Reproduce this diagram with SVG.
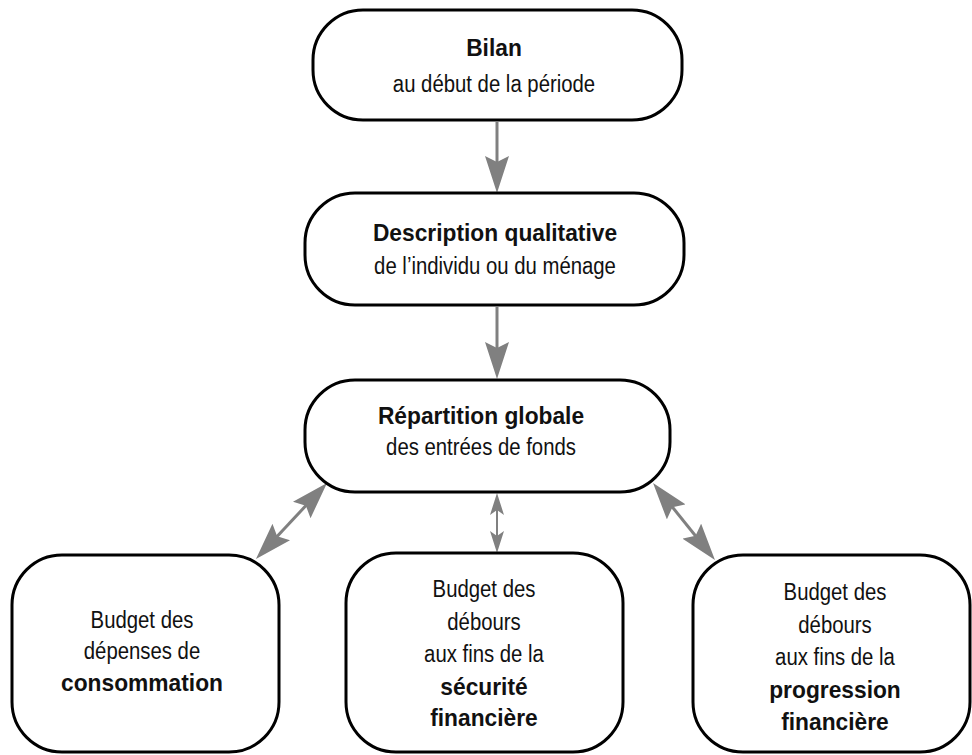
<svg xmlns="http://www.w3.org/2000/svg" width="972" height="755" viewBox="0 0 972 755">
<defs>
<style>
.box{fill:#fff;stroke:#000;stroke-width:3}
.t{font-family:"Liberation Sans",Arial,sans-serif;font-size:24.5px;fill:#111;text-anchor:middle}
.b{font-weight:bold}
.c{stroke:#808080;stroke-width:3;fill:none}
</style>
<marker id="ah" viewBox="0 0 37 24" refX="27" refY="12" markerWidth="37" markerHeight="24" markerUnits="userSpaceOnUse" orient="auto-start-reverse">
<path d="M0,0 L37,12 L0,24 L6,12 Z" fill="#808080"/>
</marker>
<marker id="as" viewBox="0 0 22 14" refX="16" refY="7" markerWidth="22" markerHeight="14" markerUnits="userSpaceOnUse" orient="auto-start-reverse">
<path d="M0,0 L22,7 L0,14 L5,7 Z" fill="#808080"/>
</marker>
</defs>
<g id="connectors">
<line class="c" x1="497" y1="122" x2="497" y2="183" marker-end="url(#ah)"/>
<line class="c" x1="497" y1="307" x2="497" y2="369" marker-end="url(#ah)"/>
<line class="c" x1="497" y1="499" x2="497" y2="547" marker-start="url(#as)" marker-end="url(#as)" style="stroke-width:2"/>
<line class="c" x1="320.2" y1="490.3" x2="262.8" y2="551.7" marker-start="url(#ah)" marker-end="url(#ah)"/>
<line class="c" x1="659.3" y1="490.8" x2="708.7" y2="552.2" marker-start="url(#ah)" marker-end="url(#ah)"/>
</g>
<g id="bilan">
<rect class="box" x="313" y="10" width="369" height="110" rx="50"/>
<text class="t b" transform="translate(494,0) scale(0.93,1)" x="0" y="56">Bilan</text>
<text class="t" transform="translate(494,0) scale(0.83,1)" x="0" y="92">au début de la période</text>
</g>
<g id="description">
<rect class="box" x="305" y="193" width="379" height="112" rx="50"/>
<text class="t b" transform="translate(495,0) scale(0.93,1)" x="0" y="241">Description qualitative</text>
<text class="t" transform="translate(495,0) scale(0.83,1)" x="0" y="274">de l’individu ou du ménage</text>
</g>
<g id="repartition">
<rect class="box" x="305" y="380" width="365" height="112" rx="50"/>
<text class="t b" transform="translate(481,0) scale(0.93,1)" x="0" y="424">Répartition globale</text>
<text class="t" transform="translate(481,0) scale(0.83,1)" x="0" y="455">des entrées de fonds</text>
</g>
<g id="consommation">
<rect class="box" x="12" y="555" width="267" height="197" rx="50"/>
<text class="t" transform="translate(142,0) scale(0.83,1)" x="0" y="628">Budget des</text>
<text class="t" transform="translate(142,0) scale(0.83,1)" x="0" y="659">dépenses de</text>
<text class="t b" transform="translate(142,0) scale(0.93,1)" x="0" y="691">consommation</text>
</g>
<g id="securite">
<rect class="box" x="346" y="553" width="277" height="199" rx="50"/>
<text class="t" transform="translate(484,0) scale(0.83,1)" x="0" y="597">Budget des</text>
<text class="t" transform="translate(484,0) scale(0.83,1)" x="0" y="630">débours</text>
<text class="t" transform="translate(484,0) scale(0.83,1)" x="0" y="662">aux fins de la</text>
<text class="t b" transform="translate(484,0) scale(0.93,1)" x="0" y="695">sécurité</text>
<text class="t b" transform="translate(484,0) scale(0.93,1)" x="0" y="726">financière</text>
</g>
<g id="progression">
<rect class="box" x="693" y="555" width="277" height="197" rx="50"/>
<text class="t" transform="translate(835,0) scale(0.83,1)" x="0" y="600">Budget des</text>
<text class="t" transform="translate(835,0) scale(0.83,1)" x="0" y="633">débours</text>
<text class="t" transform="translate(835,0) scale(0.83,1)" x="0" y="665">aux fins de la</text>
<text class="t b" transform="translate(835,0) scale(0.93,1)" x="0" y="698">progression</text>
<text class="t b" transform="translate(835,0) scale(0.93,1)" x="0" y="730">financière</text>
</g>
</svg>
